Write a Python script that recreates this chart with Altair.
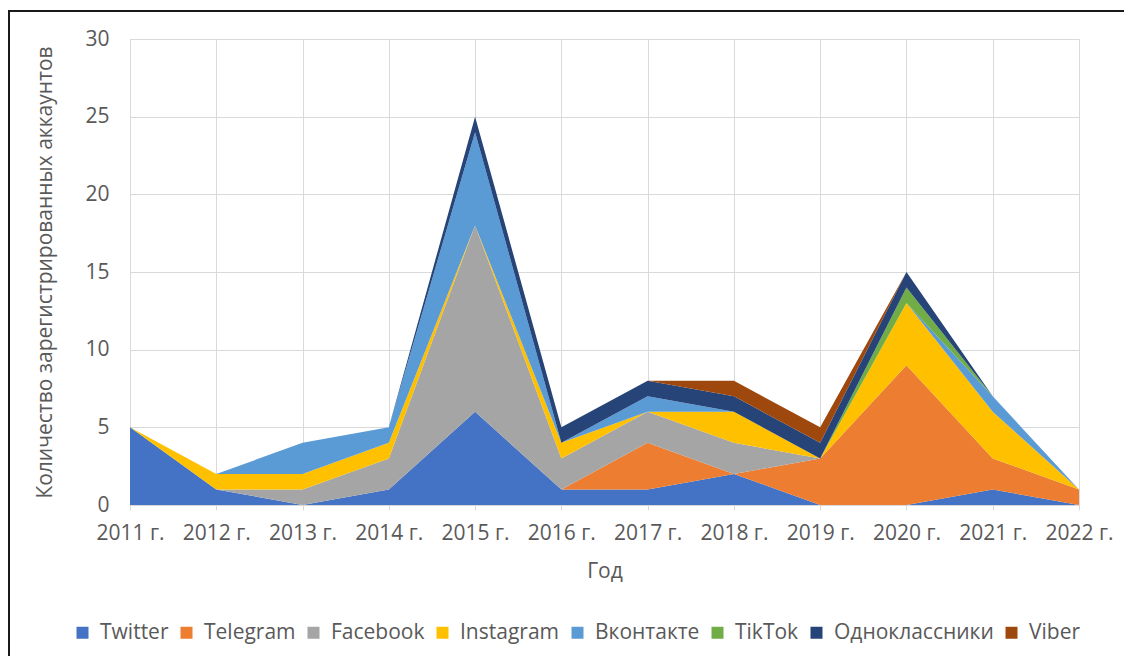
import altair as alt
import pandas as pd

years = ["2011 г.", "2012 г.", "2013 г.", "2014 г.", "2015 г.", "2016 г.",
         "2017 г.", "2018 г.", "2019 г.", "2020 г.", "2021 г.", "2022 г."]
series = ["Twitter", "Telegram", "Facebook", "Instagram", "Вконтакте",
          "TikTok", "Одноклассники", "Viber"]
colors = ["#4472C4", "#ED7D31", "#A5A5A5", "#FFC000", "#5B9BD5",
          "#70AD47", "#264478", "#9E480E"]

twitter = [5, 1, 0, 1, 6, 1, 1, 2, 0, 0, 1, 0]
telegram = [0, 0, 0, 0, 0, 0, 3, 0, 3, 9, 2, 1]
facebook = [0, 0, 1, 2, 12, 2, 2, 2, 0, 0, 0, 0]
instagram = [0, 1, 1, 1, 0, 1, 0, 2, 0, 4, 3, 0]
vkontakte = [0, 0, 2, 1, 6, 0, 1, 0, 0, 0, 1, 0]
tiktok = [0, 0, 0, 0, 0, 0, 0, 0, 0, 1, 0, 0]
odnoklassniki = [0, 0, 0, 0, 1, 1, 1, 1, 1, 1, 0, 0]
viber = [0, 0, 0, 0, 0, 0, 0, 1, 1, 0, 0, 0]

values = [twitter, telegram, facebook, instagram, vkontakte, tiktok,
          odnoklassniki, viber]

rows = []
for i, (name, vals) in enumerate(zip(series, values)):
    for y, v in zip(years, vals):
        rows.append({"year": y, "series": name, "value": v, "idx": i})
df = pd.DataFrame(rows)

FONT = "Open Sans"
TXT = "#595959"
W, H = 949, 466
FS = 21

area = alt.Chart(df).mark_area(opacity=1).encode(
    x=alt.X("year:O", sort=years,
            scale=alt.Scale(type="point", padding=0),
            axis=alt.Axis(title="Год", labelAngle=0, labelFontSize=FS,
                          labelColor=TXT, labelFont=FONT, titleFont=FONT,
                          titleFontSize=FS, titleColor=TXT, titleFontWeight="normal",
                          tickSize=5, tickColor="#d9d9d9", labelPadding=12,
                          domainColor="#d9d9d9", grid=True, gridColor="#d9d9d9",
                          titleY=66, titleBaseline="middle")),
    y=alt.Y("value:Q", stack="zero",
            scale=alt.Scale(domain=[0, 30]),
            axis=alt.Axis(title="Количество зарегистрированных аккаунтов",
                          values=[0, 5, 10, 15, 20, 25, 30],
                          labelFontSize=FS, labelColor=TXT, labelFont=FONT,
                          titleFont=FONT, titleFontSize=FS, titleColor=TXT,
                          titleFontWeight="normal", tickSize=0, labelPadding=21,
                          domain=False, grid=True, gridColor="#d9d9d9",
                          titleAngle=-90, titleX=-85, titleY=H / 2,
                          titleAlign="center", titleBaseline="middle")),
    color=alt.Color("series:N", sort=series,
                    scale=alt.Scale(domain=series, range=colors),
                    legend=alt.Legend(title=None, orient="none", direction="horizontal",
                                      columns=8, legendX=-58, legendY=583,
                                      symbolType="square", symbolSize=144,
                                      symbolStrokeWidth=0,
                                      labelFontSize=FS, labelFont=FONT,
                                      labelColor=TXT, columnPadding=7,
                                      labelOffset=7)),
    order=alt.Order("idx:Q", sort="ascending"),
)

border = alt.Chart(pd.DataFrame({"a": [0]})).mark_rect(
    fill=None, stroke="#1a1a1a", strokeWidth=2
).encode(
    x=alt.value(-121), x2=alt.value(1300),
    y=alt.value(-28), y2=alt.value(900),
)

chart = alt.layer(area, border).properties(
    width=W, height=H,
    autosize=alt.AutoSizeParams(type="none"),
    padding={"left": 122, "top": 31, "right": 45, "bottom": 151},
).configure_view(stroke=None).configure(background="white")

chart.save("out.html", embed_options={"renderer": "svg", "actions": False})
